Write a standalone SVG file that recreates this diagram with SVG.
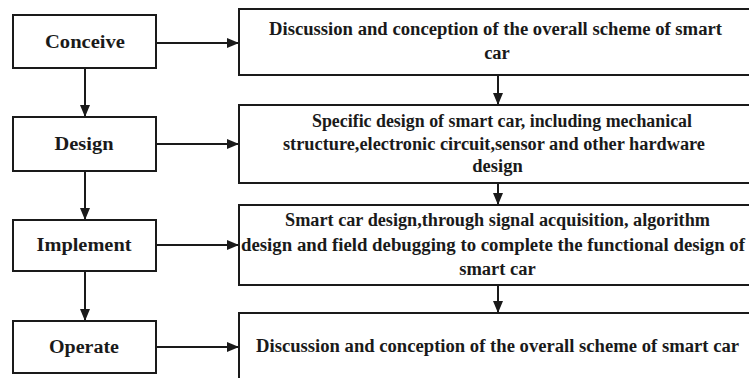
<svg xmlns="http://www.w3.org/2000/svg" width="749" height="378" viewBox="0 0 749 378">
<defs>
<marker id="ah" viewBox="0 0 12 10" refX="12" refY="5" markerWidth="12" markerHeight="10" markerUnits="userSpaceOnUse" orient="auto">
<path d="M0,0 L12,5 L0,10 Z" fill="#1a1a1a"/>
</marker>
<style>
.box{fill:#fff;stroke:#1a1a1a;stroke-width:2}
.t{font-family:"Liberation Serif","DejaVu Serif","Times New Roman",serif;font-weight:bold;font-size:18.5px;fill:#1a1a1a;text-anchor:middle}
.c{stroke:#1a1a1a;stroke-width:2;fill:none;marker-end:url(#ah)}
</style>
</defs>
<rect width="749" height="378" fill="#fff"/>
<g id="connectors">
<line class="c" x1="156" y1="43" x2="239" y2="43"/>
<line class="c" x1="156" y1="144" x2="239" y2="144"/>
<line class="c" x1="156" y1="245" x2="239" y2="245"/>
<line class="c" x1="156" y1="347" x2="239" y2="347"/>
<line class="c" x1="85" y1="68" x2="85" y2="117"/>
<line class="c" x1="85" y1="171" x2="85" y2="220"/>
<line class="c" x1="85" y1="271" x2="85" y2="321"/>
<line class="c" x1="498" y1="75" x2="498" y2="105"/>
<line class="c" x1="498" y1="183" x2="498" y2="205"/>
<line class="c" x1="498" y1="285" x2="498" y2="313"/>
</g>
<g id="conceive">
<rect class="box" x="13" y="15" width="143" height="53"/>
<text class="t" x="85" y="48" textLength="80" lengthAdjust="spacingAndGlyphs">Conceive</text>
</g>
<g id="design">
<rect class="box" x="13" y="117" width="143" height="54"/>
<text class="t" x="84" y="150" textLength="59" lengthAdjust="spacingAndGlyphs">Design</text>
</g>
<g id="implement">
<rect class="box" x="13" y="220" width="143" height="51"/>
<text class="t" x="84" y="251" textLength="95" lengthAdjust="spacingAndGlyphs">Implement</text>
</g>
<g id="operate">
<rect class="box" x="13" y="321" width="143" height="52"/>
<text class="t" x="84" y="353" textLength="70" lengthAdjust="spacingAndGlyphs">Operate</text>
</g>
<g id="box1">
<rect class="box" x="239" y="9" width="530" height="66"/>
<text class="t" x="495.5" y="35" textLength="453" lengthAdjust="spacingAndGlyphs">Discussion and conception of the overall scheme of smart</text>
<text class="t" x="497" y="59">car</text>
</g>
<g id="box2">
<rect class="box" x="239" y="105" width="530" height="78"/>
<text class="t" x="502" y="127" textLength="380" lengthAdjust="spacingAndGlyphs">Specific design of smart car, including mechanical</text>
<text class="t" x="494" y="150" textLength="422" lengthAdjust="spacingAndGlyphs">structure,electronic circuit,sensor and other hardware</text>
<text class="t" x="497.5" y="172">design</text>
</g>
<g id="box3">
<rect class="box" x="239" y="205" width="530" height="80"/>
<text class="t" x="497.5" y="226" textLength="425" lengthAdjust="spacingAndGlyphs">Smart car design,through signal acquisition, algorithm</text>
<text class="t" x="493" y="251" textLength="504" lengthAdjust="spacingAndGlyphs">design and field debugging to complete the functional design of</text>
<text class="t" x="497.5" y="275">smart car</text>
</g>
<g id="box4">
<rect class="box" x="239" y="313" width="530" height="80"/>
<text class="t" x="497.5" y="352" textLength="483" lengthAdjust="spacingAndGlyphs">Discussion and conception of the overall scheme of smart car</text>
</g>
</svg>
